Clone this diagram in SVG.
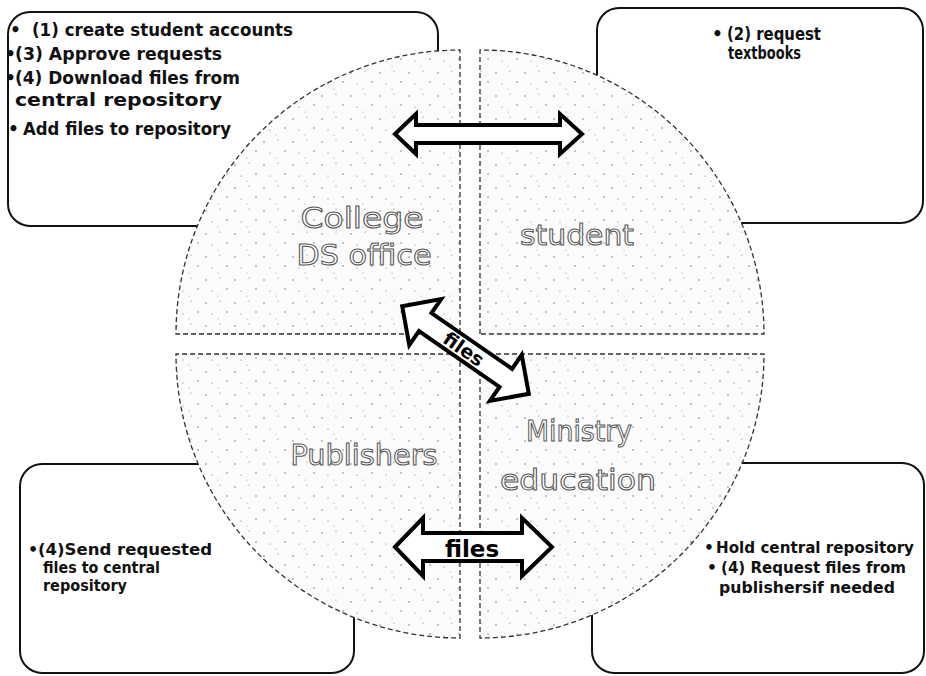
<svg xmlns="http://www.w3.org/2000/svg" width="926" height="676" viewBox="0 0 926 676">
  <style>
    .box { fill: #ffffff; stroke: #111111; stroke-width: 2; }
    .pie { fill: url(#stipple); stroke: #333333; stroke-width: 1.3; stroke-dasharray: 5 3; }
    .note { font-family: "DejaVu Sans", "Liberation Sans", sans-serif; font-weight: bold; font-size: 17px; fill: #111111; }
    .note-sm { font-family: "DejaVu Sans", "Liberation Sans", sans-serif; font-weight: bold; font-size: 16px; fill: #111111; }
    .note-xs { font-family: "DejaVu Sans", "Liberation Sans", sans-serif; font-weight: bold; font-size: 15.5px; fill: #111111; }
    .label { font-family: "DejaVu Sans", "Liberation Sans", sans-serif; font-size: 28px; fill: #ffffff; stroke: #555555; stroke-width: 1; text-anchor: middle; }
    .arrow { fill: #ffffff; stroke: #000000; stroke-width: 4; stroke-linejoin: miter; }
    .arrow-text { font-family: "DejaVu Sans", "Liberation Sans", sans-serif; font-weight: bold; fill: #000000; text-anchor: middle; }
  </style>
  <defs>
    <!-- sparse grey speckle used for the four quarter segments -->
    <pattern id="stipple" width="29" height="23" patternUnits="userSpaceOnUse">
      <rect width="29" height="23" fill="#fbfbfb"/>
      <circle cx="3" cy="4" r="0.7" fill="#666"/>
      <circle cx="17" cy="2" r="0.6" fill="#777"/>
      <circle cx="24" cy="13" r="0.7" fill="#666"/>
      <circle cx="9" cy="15" r="0.6" fill="#777"/>
      <circle cx="15" cy="20" r="0.5" fill="#888"/>
    </pattern>
  </defs>

  <rect width="926" height="676" fill="#ffffff"/>

  <!-- College DS office -->
  <g id="college">
    <rect class="box" x="8" y="12" width="430" height="214" rx="22"/>
    <text class="note" x="10" y="36">•</text>
    <text class="note" x="32" y="36" textLength="261" lengthAdjust="spacingAndGlyphs">(1) create student accounts</text>
    <text class="note" x="5" y="60">•</text>
    <text class="note" x="15" y="60" textLength="207" lengthAdjust="spacingAndGlyphs">(3) Approve requests</text>
    <text class="note" x="5" y="84">•</text>
    <text class="note" x="15" y="84" textLength="225" lengthAdjust="spacingAndGlyphs">(4) Download files from</text>
    <text class="note" x="15" y="106" textLength="207" lengthAdjust="spacingAndGlyphs">central repository</text>
    <text class="note" x="8" y="135">•</text>
    <text class="note" x="23" y="135" textLength="208" lengthAdjust="spacingAndGlyphs">Add files to repository</text>
    <path class="pie" d="M460,334 L176,334 A284,284 0 0 1 460,50 Z"/>
    <text class="label" x="362" y="228" textLength="123" lengthAdjust="spacingAndGlyphs">College</text>
    <text class="label" x="364" y="265" textLength="135" lengthAdjust="spacingAndGlyphs">DS office</text>
  </g>

  <!-- student -->
  <g id="student">
    <rect class="box" x="597" y="8" width="326" height="215" rx="22"/>
    <text class="note" x="712" y="40">•</text>
    <text class="note" x="727" y="40" textLength="94" lengthAdjust="spacingAndGlyphs">(2) request</text>
    <text class="note" x="728" y="59" textLength="73" lengthAdjust="spacingAndGlyphs">textbooks</text>
    <path class="pie" d="M480,334 L480,50 A284,284 0 0 1 764,334 Z"/>
    <text class="label" x="577" y="245" textLength="114" lengthAdjust="spacingAndGlyphs">student</text>
  </g>

  <!-- Publishers -->
  <g id="publishers">
    <rect class="box" x="20" y="464" width="334" height="209" rx="22"/>
    <text class="note-sm" x="28" y="555">•</text>
    <text class="note-sm" x="38" y="555" textLength="174" lengthAdjust="spacingAndGlyphs">(4)Send requested</text>
    <text class="note-sm" x="43" y="573" textLength="117" lengthAdjust="spacingAndGlyphs">files to central</text>
    <text class="note-sm" x="43" y="591" textLength="84" lengthAdjust="spacingAndGlyphs">repository</text>
    <path class="pie" d="M460,354 L460,638 A284,284 0 0 1 176,354 Z"/>
    <text class="label" x="364" y="465" textLength="147" lengthAdjust="spacingAndGlyphs">Publishers</text>
  </g>

  <!-- Ministry education -->
  <g id="ministry">
    <rect class="box" x="592" y="463" width="332" height="210" rx="22"/>
    <text class="note-xs" x="704" y="553">•</text>
    <text class="note-xs" x="716" y="553" textLength="198" lengthAdjust="spacingAndGlyphs">Hold central repository</text>
    <text class="note-xs" x="707" y="573">•</text>
    <text class="note-xs" x="721" y="573" textLength="185" lengthAdjust="spacingAndGlyphs">(4) Request files from</text>
    <text class="note-xs" x="719" y="593" textLength="176" lengthAdjust="spacingAndGlyphs">publishersif needed</text>
    <path class="pie" d="M480,354 L764,354 A284,284 0 0 1 480,638 Z"/>
    <text class="label" x="579" y="441" textLength="106" lengthAdjust="spacingAndGlyphs">Ministry</text>
    <text class="label" x="578" y="490" textLength="156" lengthAdjust="spacingAndGlyphs">education</text>
  </g>

  <!-- double-headed block arrows between the segments -->
  <g id="connectors">
    <path class="arrow" d="M395,134 L416,114 L416,125 L560,125 L560,114 L582,134 L560,154 L560,143 L416,143 L416,154 Z"/>
    <g transform="translate(465.5,350) rotate(34.7)">
      <path class="arrow" d="M-77,0 L-49,-28 L-49,-11 L49,-11 L49,-28 L77,0 L49,28 L49,11 L-49,11 L-49,28 Z"/>
      <text class="arrow-text" x="-2" y="7" font-size="19">files</text>
    </g>
    <path class="arrow" d="M395,547 L423,518 L423,533 L522,533 L522,518 L552,547 L522,576 L522,561 L423,561 L423,576 Z"/>
    <text class="arrow-text" x="472" y="557" font-size="23">files</text>
  </g>
</svg>
